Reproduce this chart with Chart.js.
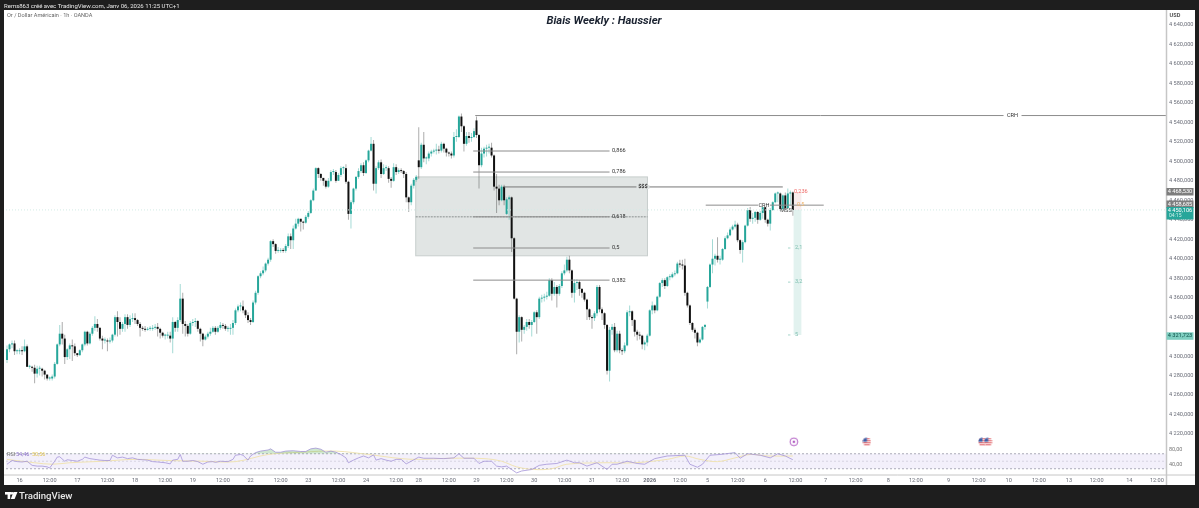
<!DOCTYPE html>
<html><head><meta charset="utf-8">
<style>html,body{margin:0;padding:0;background:#1e1e1e}canvas{display:block}</style>
<script src="https://cdn.jsdelivr.net/npm/chart.js@4"></script></head>
<body><canvas id="c" width="1199" height="508"></canvas>
<script>
const closes=[4307,4312,4313,4305,4305,4306,4305,4310,4289,4289,
4288,4282,4287,4287,4285,4281,4277,4277,4279,4292,
4312,4323,4318,4299,4307,4311,4310,4303,4301,4306,
4312,4325,4313,4323,4329,4333,4329,4318,4316,4316,
4315,4316,4322,4340,4335,4328,4333,4340,4332,4338,
4339,4337,4333,4329,4328,4327,4328,4328,4329,4330,
4328,4324,4321,4321,4321,4318,4335,4329,4337,4359,
4333,4331,4323,4334,4335,4336,4328,4323,4317,4320,
4323,4325,4329,4325,4329,4332,4331,4328,4328,4329,
4334,4347,4351,4351,4347,4342,4337,4335,4355,4365,
4382,4385,4388,4395,4399,4418,4415,4408,4408,4409,
4408,4413,4423,4419,4431,4436,4441,4438,4437,4443,
4447,4460,4470,4493,4487,4483,4480,4474,4480,4489,
4489,4480,4486,4493,4493,4479,4446,4458,4472,4484,
4490,4496,4488,4501,4511,4518,4477,4493,4499,4487,
4493,4493,4482,4480,4494,4489,4491,4490,4487,4463,
4458,4475,4481,4484,4494,4517,4503,4503,4508,4510,
4511,4512,4511,4518,4513,4509,4508,4506,4525,4525,
4546,4536,4518,4526,4524,4525,4531,4527,4496,4508,
4513,4514,4514,4506,4474,4472,4460,4474,4460,4461,
4463,4421,4359,4325,4340,4327,4330,4335,4332,4335,
4345,4340,4359,4360,4361,4362,4378,4364,4371,4364,
4372,4385,4388,4399,4388,4365,4375,4376,4369,4365,
4358,4348,4340,4339,4344,4371,4348,4344,4332,4285,
4327,4330,4306,4323,4306,4305,4311,4345,4346,4337,
4325,4322,4321,4312,4314,4321,4347,4352,4347,4361,
4375,4378,4372,4381,4381,4384,4385,4395,4394,4393,
4365,4352,4334,4327,4324,4314,4317,4330,4332,4371,
4394,4400,4403,4399,4399,4410,4421,4424,4430,4433,
4435,4419,4409,4417,4434,4450,4441,4442,4448,4440,
4447,4455,4440,4436,4450,4458,4467,4467,4451,4465,
4452,4467,4468,4450];
const highs=[4311,4313,4316,4316,4307,4308,4310,4317,4312,4291,
4290,4291,4290,4290,4288,4286,4281,4279,4281,4294,
4313,4332,4335,4322,4308,4313,4317,4313,4303,4307,
4313,4326,4326,4325,4331,4341,4338,4330,4321,4319,
4318,4319,4323,4342,4346,4340,4335,4343,4343,4342,
4344,4344,4338,4335,4331,4331,4330,4331,4332,4333,
4334,4329,4325,4323,4325,4325,4340,4336,4340,4374,
4365,4336,4333,4336,4338,4339,4337,4329,4324,4322,
4325,4329,4331,4331,4331,4335,4334,4333,4331,4333,
4337,4349,4353,4355,4357,4348,4345,4339,4357,4367,
4383,4387,4392,4396,4401,4419,4420,4416,4412,4411,
4411,4415,4426,4426,4434,4441,4442,4441,4439,4445,
4449,4461,4472,4494,4494,4488,4483,4481,4483,4491,
4492,4491,4488,4495,4495,4497,4480,4460,4473,4485,
4493,4498,4499,4502,4512,4525,4522,4495,4501,4502,
4497,4496,4495,4484,4498,4497,4493,4493,4491,4489,
4464,4477,4483,4486,4535,4519,4530,4505,4510,4512,
4513,4518,4516,4520,4519,4514,4510,4510,4530,4533,
4547,4549,4537,4530,4530,4529,4534,4546,4528,4514,
4515,4517,4518,4519,4507,4487,4476,4476,4476,4463,
4465,4464,4422,4360,4342,4341,4332,4338,4338,4337,
4346,4347,4361,4363,4364,4366,4380,4380,4376,4373,
4374,4387,4394,4402,4403,4389,4379,4379,4378,4370,
4366,4359,4349,4342,4346,4373,4373,4350,4345,4333,
4330,4333,4334,4326,4326,4308,4314,4347,4352,4347,
4338,4327,4325,4322,4316,4323,4348,4356,4353,4362,
4376,4380,4380,4382,4384,4386,4388,4397,4399,4399,
4400,4366,4353,4335,4329,4325,4319,4331,4333,4372,
4395,4420,4405,4422,4403,4411,4423,4427,4432,4435,
4439,4437,4420,4419,4435,4452,4453,4447,4449,4449,
4449,4456,4456,4441,4452,4459,4468,4469,4468,4466,
4468,4472,4470,4469];
const lows=[4293,4304,4308,4301,4302,4302,4301,4304,4289,4287,
4284,4272,4278,4280,4279,4276,4275,4275,4275,4277,
4291,4310,4312,4292,4296,4297,4295,4300,4299,4300,
4304,4310,4311,4312,4321,4326,4325,4316,4307,4313,
4305,4313,4314,4320,4320,4322,4325,4325,4328,4330,
4335,4333,4331,4320,4326,4325,4326,4326,4326,4327,
4320,4318,4319,4317,4318,4314,4303,4325,4325,4335,
4323,4320,4320,4322,4331,4330,4325,4315,4310,4316,
4318,4321,4324,4322,4324,4327,4328,4326,4325,4322,
4322,4332,4345,4346,4344,4339,4334,4332,4334,4353,
4363,4380,4383,4386,4393,4397,4412,4405,4406,4406,
4406,4406,4411,4410,4410,4430,4433,4428,4430,4436,
4441,4446,4459,4470,4483,4480,4475,4472,4473,4479,
4486,4478,4480,4484,4487,4477,4440,4431,4456,4470,
4482,4488,4485,4487,4499,4510,4470,4467,4491,4483,
4486,4490,4478,4473,4479,4486,4487,4488,4483,4458,
4448,4455,4472,4479,4482,4492,4499,4497,4500,4505,
4508,4507,4508,4509,4509,4505,4505,4503,4504,4520,
4524,4530,4510,4516,4519,4520,4524,4524,4472,4494,
4504,4505,4508,4504,4470,4447,4455,4459,4455,4445,
4440,4407,4358,4302,4314,4315,4323,4326,4328,4320,
4334,4323,4338,4355,4356,4358,4361,4357,4362,4350,
4362,4370,4383,4386,4385,4360,4355,4368,4362,4360,
4356,4337,4337,4328,4336,4341,4345,4337,4328,4281,
4274,4322,4304,4304,4303,4301,4303,4310,4341,4331,
4320,4316,4317,4307,4306,4310,4320,4343,4344,4346,
4360,4371,4369,4371,4378,4380,4382,4384,4391,4389,
4362,4350,4332,4325,4318,4310,4313,4316,4327,4349,
4370,4385,4393,4396,4394,4398,4409,4420,4423,4429,
4431,4417,4405,4396,4416,4433,4438,4436,4438,4436,
4439,4441,4437,4433,4429,4449,4457,4458,4449,4450,
4450,4451,4455,4444];
// Session gaps: the few bars whose open is not the previous close
const gapOpens={0:4296,164:4501,187:4542,199:4446,279:4356};

const rsiBars=[0,2,4,6,8,10,12,14,16,17,19,20,21,23,24,26,28,30,31,33,
35,37,39,41,42,44,46,48,50,52,54,56,58,60,63,65,66,68,69,70,
72,74,76,78,80,82,83,85,88,90,91,93,94,96,97,99,101,104,105,107,
109,111,114,117,119,121,123,125,127,129,131,133,135,136,138,140,142,144,146,147,
149,151,153,155,157,159,161,164,166,170,174,178,180,182,186,
188,190,193,195,197,199,203,205,209,212,
215,219,223,226,228,231,235,237,239,241,
243,247,251,254,258,263,270,272,275,277,
280,284,290,292,295,300,304,307,310,313];
const rsiValues=[42,52,49,48,50,39,37,37,35,32,50,61,62,50,54,52,50,55,61,57,
55,53,52,52,66,59,61,57,59,55,54,53,49,48,46,43,53,55,68,50,
50,52,49,42,48,49,47,50,49,55,66,68,66,53,64,73,77,80,83,74,
74,77,78,76,76,83,85,82,74,77,74,68,59,46,53,59,64,59,67,53,
57,53,50,55,55,43,50,61,58,58,57,59,70,58,58,
44,50,50,37,35,37,19,24,28,39,
42,44,53,46,46,37,46,37,28,42,
42,50,44,42,57,64,66,42,34,42,
66,68,73,58,70,66,59,70,64,54];
const maBars=[0,11,18,25,38,51,64,78,91,104,117,131,144,157,164,177,190,197,203,210,217,223,237,250,263,270,276,283,290,296,303,313];
const maValues=[55,46,42,46,50,55,52,50,49,68,74,77,68,57,55,58,57,50,35,28,30,42,46,46,55,64,55,49,59,68,64,64];

const priceTicks=[4640,4620,4600,4580,4560,4540,4520,4500,4480,4460,4440,4420,4400,4380,4360,4340,4300,4280,4260,4240,4220];
const timeTickBars=[5,17,28,40,51,63,74,86,97,109,120,132,143,155,164,176,187,199,210,222,233,245,256,268,279,291,302,314,326,338,351,362,375,387,399,411,423,434,447,458];
const timeTickLabels=['16','12:00','17','12:00','18','12:00','19','12:00','22','12:00','23','12:00','24','12:00','28','12:00','29','12:00','30','12:00','31','12:00','2026','12:00','5','12:00','6','12:00','7','12:00','8','12:00','9','12:00','10','12:00','13','12:00','14','12:00'];

const fibLevels=[['0,866',4510.6],['0,786',4489],['0,618',4443],['0,5',4411],['0,382',4378]];
const crhHigh=4547, crhLow=4455, liquidity=4473.7, lastPrice=4450.1, tp=4321.7, stopLevel=4468.5;
const rrLevels=[['2,1',4411],['3,2',4376],['5',4321.7]];
const eventBars=[313.4,342.5,388.5,390.8], eventPrice=4212;

const FONT='Roboto, "Liberation Sans", sans-serif';
const X_MIN=-0.398, X_MAX=461.63, Y_MAX=4655.4, Y_MIN=4177.9, R_MIN=13.33, R_MAX=1253.33;
const TEAL='#26a69a', BLACK='#111', FIBC='#8c8c8c';
const opens=closes.map((c,i)=>gapOpens[i]!==undefined?gapOpens[i]:closes[i-1]);
const isUp=i=>closes[i]>=opens[i];

function flagIcon(){const s=document.createElement('canvas');s.width=9;s.height=9;const g=s.getContext('2d');
  g.beginPath();g.arc(4.5,4.5,4,0,7);g.clip();g.fillStyle='#fff';g.fillRect(0,0,9,9);
  g.fillStyle='#e0595f';for(const y of [1,3,5,7])g.fillRect(0,y,9,1);
  g.fillStyle='#3f5fa8';g.fillRect(0,0,4.5,4.5);return s;}
function eventIcon(){const s=document.createElement('canvas');s.width=10;s.height=10;const g=s.getContext('2d');
  g.strokeStyle='#b25fc4';g.lineWidth=1;g.beginPath();g.arc(5,5,3.9,0,7);g.fillStyle='#fff';g.fill();g.stroke();
  g.fillStyle='#b25fc4';g.beginPath();g.arc(5,5,1.3,0,7);g.fill();return s;}
const icons=[eventIcon(),flagIcon(),flagIcon(),flagIcon()];

const seg=(x0,x1,y,color,extra={})=>Object.assign({type:'line',data:[{x:x0,y},{x:x1,y}],borderColor:color,borderWidth:1,pointRadius:0,order:1},extra);
const fibLines=fibLevels.map(f=>seg(185.7,240,f[1],FIBC));

const overlay={id:'overlay',
  beforeDraw(ch){const g=ch.ctx;g.save();g.fillStyle='#1e1e1e';g.fillRect(0,0,1199,508);g.fillStyle='#fff';g.fillRect(4,10,1191,475);g.restore();},
  beforeDatasetsDraw(ch){const g=ch.ctx,x=ch.scales.x,y=ch.scales.y;g.save();
    const bx0=x.getPixelForValue(162.8),bx1=x.getPixelForValue(255.1),by0=y.getPixelForValue(4484),by1=y.getPixelForValue(4403);
    g.fillStyle='#e1e5e4';g.fillRect(bx0,by0,bx1-bx0,by1-by0);g.strokeStyle='#c8cecd';g.lineWidth=1;g.strokeRect(bx0,by0,bx1-bx0,by1-by0);
    const rx0=x.getPixelForValue(313.3),rx1=x.getPixelForValue(316.4);
    g.fillStyle='#e2f2ef';g.fillRect(rx0,y.getPixelForValue(lastPrice),rx1-rx0,y.getPixelForValue(tp)-y.getPixelForValue(lastPrice));
    g.fillStyle='#f8eded';g.fillRect(rx0,y.getPixelForValue(stopLevel),rx1-rx0,y.getPixelForValue(lastPrice)-y.getPixelForValue(stopLevel));
    g.restore();},
  afterDraw(ch){const g=ch.ctx,x=ch.scales.x,y=ch.scales.y;g.save();
    const T=(s,px,py,size,color,align='left',weight='normal',style='normal',fam=FONT)=>{g.font=`${style} ${weight} ${size}px ${fam}`;g.fillStyle=color;g.textAlign=align;g.textBaseline='middle';g.fillText(s,px,py);};
    const B=(px,py,w,h,c)=>{g.fillStyle=c;g.fillRect(px,py,w,h);};
    // pane frame
    g.strokeStyle='#c6c6c6';g.lineWidth=1.5;g.beginPath();g.moveTo(1166.5,10);g.lineTo(1166.5,485);g.stroke();
    g.lineWidth=1;g.beginPath();g.moveTo(4,475);g.lineTo(1195,475);g.stroke();
    // header and titles
    T('Rems863 créé avec TradingView.com, Janv 06, 2026 11:25 UTC+1',4,6,6,'#e8e8e8');
    T('Or / Dollar Américain · 1h · OANDA',7,16,5.6,'#666');
    T('Biais Weekly : Haussier',604,21.5,11.3,'#1a2230','center','bold','italic');
    T('USD',1175,16,5.6,'#555','center','bold');
    T('RSI',7,454.5,5.5,'#777');T('54,46',16,454.5,5.5,'#8a6fc9');T('50,56',32,454.5,5.5,'#e3c75b');
    T('80,00',1169,450,5.5,'#777');T('40,00',1169,465,5.5,'#777');
    // level labels
    for(const f of fibLevels)T(f[0],612,y.getPixelForValue(f[1]),5.6,'#333');
    const gapLabel=(s,bar,price,bg,w,wt='normal')=>{const px=x.getPixelForValue(bar),py=y.getPixelForValue(price);B(px-w/2,py-2,w,4,bg);T(s,px,py,5.6,'#333','center',wt);};
    gapLabel('CRH',400.5,crhHigh,'#fff',18);
    gapLabel('$$$',253.3,liquidity,'#e1e5e4',13,'bold');
    gapLabel('CRH',301.5,crhLow,'#fff',12);
    T('MSS',786,211,5.6,'#444','center');
    T('0,236',794,y.getPixelForValue(stopLevel),5.6,'#ef6b68');
    T('0,5',797,204.5,5.6,'#f0b46a');
    for(const r of rrLevels){const py=y.getPixelForValue(r[1]);B(788,py-.4,2.4,.8,'#8fcabd');T(r[0],795,py,5.6,'#7fbfb0');}
    // price badges
    const badge=(s,py,h,bg,fg)=>{B(1166.5,py,27,h,bg);T(s,1180,py+3.6,5.6,fg,'center');};
    badge('4 468,530',188,7.5,'#7d7d7d','#fff');
    badge('4 458,685',200.5,7.5,'#7d7d7d','#fff');
    B(1166.5,207,27,12.5,TEAL);T('4 450,106',1180,210.5,5.6,'#fff','center');T('04:15',1169,216,5,'#cdeee9');
    badge('4 321,723',332.3,7.5,'#7fcfc1','#0d4f47');
    // footer logo
    g.fillStyle='#fff';g.fillRect(5,492,6.5,2.6);g.fillRect(7.6,492,2.6,7);
    g.beginPath();g.arc(12.2,493.3,1.3,0,7);g.fill();
    g.beginPath();g.moveTo(13.5,492);g.lineTo(17.5,492);g.lineTo(14.6,499);g.lineTo(10.8,499);g.fill();
    T('TradingView',19,496.3,9.6,'#e8e8e8','left','500');
    g.restore();}
};

new Chart(document.getElementById('c').getContext('2d'),{
  type:'bar',
  data:{datasets:[
    {label:'Bodies',data:closes.map((c,i)=>({x:i,y:[opens[i],c]})),backgroundColor:closes.map((c,i)=>isUp(i)?TEAL:BLACK),barThickness:2,minBarLength:1,grouped:false,inflateAmount:0,order:2},
    {label:'Wicks',data:closes.map((c,i)=>({x:i,y:[lows[i],highs[i]]})),backgroundColor:closes.map((c,i)=>isUp(i)?'rgba(38,166,154,.42)':'rgba(70,70,70,.45)'),barThickness:1,grouped:false,inflateAmount:0,order:3},
    seg(186.5,461.6,crhHigh,'#8c8c8c'),
    ...fibLines,
    seg(198,309,liquidity,'#777'),
    seg(278.3,325.3,crhLow,'#8c8c8c'),
    seg(162.8,255.1,4443,'#8a8f8f',{borderDash:[2,1]}),
    seg(X_MIN,X_MAX,lastPrice,'#d2ebe6',{borderDash:[1,2]}),
    {type:'line',label:'Events',data:eventBars.map(b=>({x:b,y:eventPrice})),showLine:false,pointStyle:icons,pointRadius:5,order:0},
    seg(X_MIN,X_MAX,70,'rgba(120,120,140,.6)',{yAxisID:'y2',borderDash:[2,2],order:6,fill:{target:{value:30},above:'#f3f0fb',below:'#f3f0fb'}}),
    seg(X_MIN,X_MAX,50,'rgba(120,120,140,.22)',{yAxisID:'y2',borderDash:[2,2],order:5}),
    seg(X_MIN,X_MAX,30,'rgba(120,120,140,.6)',{yAxisID:'y2',borderDash:[2,2],order:5}),
    {type:'line',label:'RSI MA',yAxisID:'y2',data:maBars.map((b,i)=>({x:b,y:maValues[i]})),borderColor:'#f1e4b4',borderWidth:1,pointRadius:0,tension:.35,order:2},
    {type:'line',label:'RSI',yAxisID:'y2',data:rsiBars.map((b,i)=>({x:b,y:rsiValues[i]})),borderColor:'#a594d8',borderWidth:.8,pointRadius:0,order:1,
      fill:{target:{value:70},above:'rgba(96,180,100,.3)',below:'rgba(0,0,0,0)'}}
  ]},
  plugins:[overlay],
  options:{responsive:false,animation:false,devicePixelRatio:1,
    layout:{padding:{left:4,right:4,top:10,bottom:23}},
    plugins:{legend:{display:false},title:{display:false},tooltip:{enabled:false}},
    scales:{
      x:{type:'linear',min:X_MIN,max:X_MAX,offset:false,grid:{display:false,drawTicks:false},border:{display:false},
        afterBuildTicks:s=>{s.ticks=timeTickBars.map(v=>({value:v}));},
        afterFit:s=>{s.height=10;},
        ticks:{autoSkip:false,maxRotation:0,minRotation:0,padding:2,color:'#6a6d78',
          font:c=>({family:FONT,size:5.6,weight:c.tick&&c.tick.label==='2026'?'bold':'normal'}),
          callback:v=>timeTickLabels[timeTickBars.indexOf(v)]}},
      y:{type:'linear',position:'right',min:Y_MIN,max:Y_MAX,grid:{display:false,drawTicks:false},border:{display:false},
        afterBuildTicks:s=>{s.ticks=priceTicks.map(v=>({value:v}));},
        afterFit:s=>{s.width=29;},
        ticks:{autoSkip:false,padding:3,color:'#6a6d78',font:{family:FONT,size:5.6},
          callback:v=>String(v).replace(/^(\d)(\d{3})$/,'$1 $2')+',000'}},
      y2:{type:'linear',display:false,min:R_MIN,max:R_MAX}
    }}
});
</script></body></html>
